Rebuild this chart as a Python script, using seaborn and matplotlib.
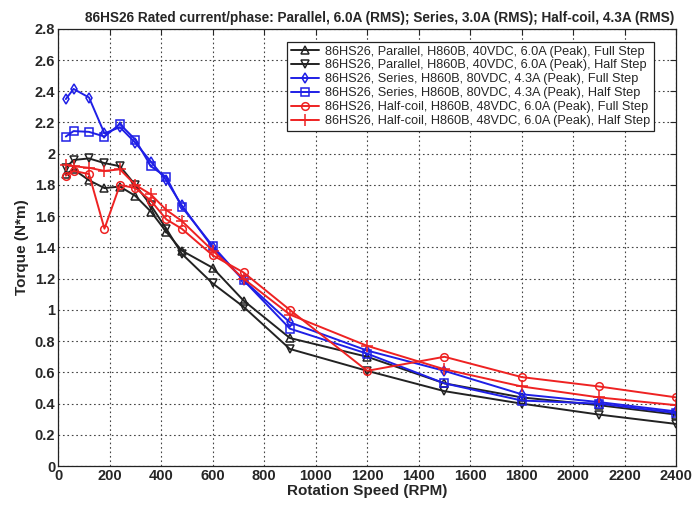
import pandas as pd
import matplotlib
matplotlib.use("Agg")
import matplotlib.pyplot as plt
import seaborn as sns
from matplotlib.ticker import FormatStrFormatter, MultipleLocator

# Rotation speed (RPM) sampled for every curve
rpm = [30, 60, 120, 180, 240, 300, 360, 420, 480, 600, 720, 900, 1200, 1500, 1800, 2100, 2400]

# Torque (N*m)
par_full = [1.87, 1.90, 1.83, 1.78, 1.79, 1.73, 1.63, 1.50, 1.38, 1.27, 1.06, 0.82, 0.70, 0.53, 0.44, 0.39, 0.33]
par_half = [1.91, 1.96, 1.97, 1.94, 1.92, 1.80, 1.67, 1.52, 1.36, 1.17, 1.02, 0.75, 0.61, 0.48, 0.40, 0.33, 0.27]
ser_full = [2.35, 2.415, 2.36, 2.13, 2.17, 2.07, 1.95, 1.83, 1.67, 1.40, 1.19, 0.92, 0.74, 0.61, 0.46, 0.41, 0.35]
ser_half = [2.11, 2.145, 2.14, 2.11, 2.19, 2.09, 1.92, 1.85, 1.66, 1.41, 1.19, 0.88, 0.72, 0.53, 0.42, 0.40, 0.34]
hc_full = [1.86, 1.89, 1.87, 1.52, 1.80, 1.78, 1.70, 1.58, 1.52, 1.35, 1.24, 1.00, 0.61, 0.70, 0.57, 0.51, 0.44]
hc_half = [1.93, 1.92, 1.91, 1.89, 1.90, 1.80, 1.74, 1.64, 1.57, 1.38, 1.20, 0.97, 0.77, 0.62, 0.51, 0.44, 0.39]

labels = [
    "86HS26, Parallel, H860B, 40VDC, 6.0A (Peak), Full Step",
    "86HS26, Parallel, H860B, 40VDC, 6.0A (Peak), Half Step",
    "86HS26, Series, H860B, 80VDC, 4.3A (Peak), Full Step",
    "86HS26, Series, H860B, 80VDC, 4.3A (Peak), Half Step",
    "86HS26, Half-coil, H860B, 48VDC, 6.0A (Peak), Full Step",
    "86HS26, Half-coil, H860B, 48VDC, 6.0A (Peak), Half Step",
]
series = [par_full, par_half, ser_full, ser_half, hc_full, hc_half]
colors = ["#222222", "#222222", "#1f1fe6", "#1f1fe6", "#ee2222", "#ee2222"]
markers = ["^", "v", "d", "s", "o", "+"]

sns.set_style("whitegrid")
plt.rcParams["font.family"] = ["Liberation Sans", "DejaVu Sans"]

fig = plt.figure(figsize=(7, 5.05), dpi=100)
ax = fig.add_axes([0.083, 0.077, 0.883, 0.866])

for lab, vals, c, m in zip(labels, series, colors, markers):
    df = pd.DataFrame({"RPM": rpm, "Torque": vals})
    sns.lineplot(data=df, x="RPM", y="Torque", ax=ax, color=c, marker=m,
                 markersize=5.5 if m != "+" else 8, markerfacecolor="none",
                 markeredgecolor=c, markeredgewidth=1.1, linewidth=1.4, label=lab)

ax.set_xlim(0, 2400)
ax.set_ylim(0, 2.8)
ax.xaxis.set_major_locator(MultipleLocator(200))
ax.yaxis.set_major_locator(MultipleLocator(0.2))
ax.yaxis.set_major_formatter(FormatStrFormatter("%g"))
ax.grid(True, color="#444444", linestyle=(0, (1.5, 2.5)), linewidth=0.8)
ax.tick_params(direction="in", length=4, top=True, right=True, labelsize=10.5, pad=2)
for t in ax.get_xticklabels() + ax.get_yticklabels():
    t.set_fontweight("bold")
for s in ax.spines.values():
    s.set_color("#222222")
    s.set_linewidth(0.9)

ax.set_xlabel("Rotation Speed (RPM)", fontsize=11, fontweight="bold", labelpad=1)
ax.set_ylabel("Torque (N*m)", fontsize=11, fontweight="bold", labelpad=4)
ax.set_title("86HS26 Rated current/phase: Parallel, 6.0A (RMS); Series, 3.0A (RMS); Half-coil, 4.3A (RMS)",
             fontsize=9.8, fontweight="bold", pad=5, x=0.52)

leg = ax.legend(loc="upper right", fontsize=9.2, frameon=True, fancybox=False,
                borderpad=0.3, labelspacing=0.15, handlelength=2.2, handletextpad=0.5,
                bbox_to_anchor=(0.975, 0.985))
leg.get_frame().set_edgecolor("#222222")
leg.get_frame().set_linewidth(0.9)
leg.get_frame().set_alpha(1)

fig.savefig("out.png", dpi=100)
